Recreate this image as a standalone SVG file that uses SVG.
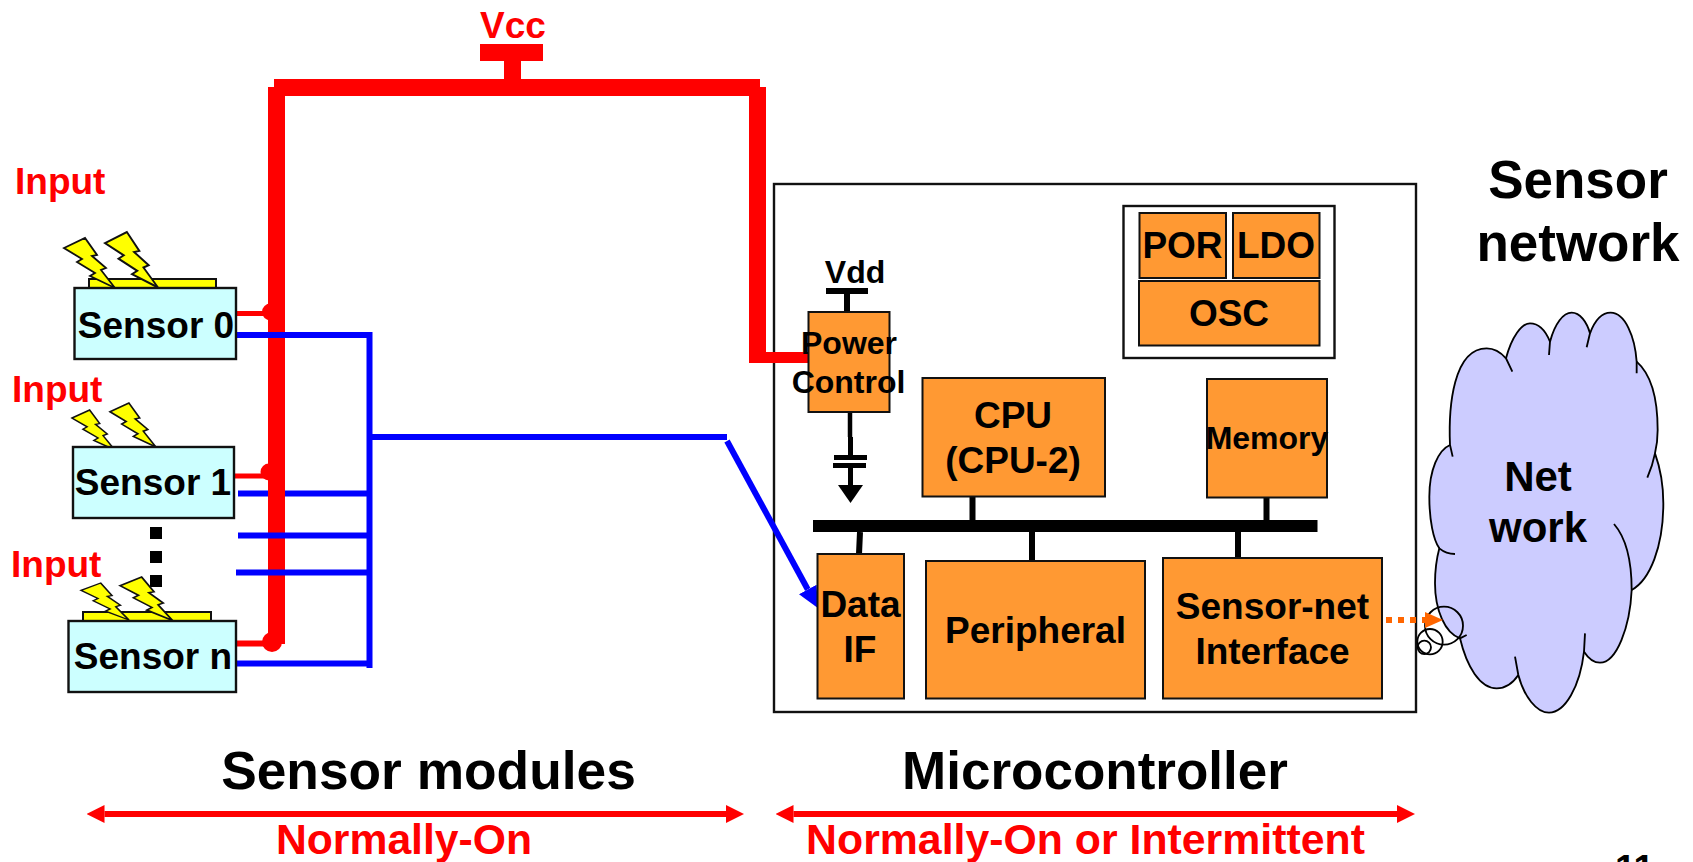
<svg xmlns="http://www.w3.org/2000/svg" width="1693" height="862" viewBox="0 0 1693 862">
<style>
text{font-family:"Liberation Sans",Arial,sans-serif;font-weight:700;fill:#000}
.m{text-anchor:middle}
.r{fill:#f00}
.f36{font-size:37px}
.f31{font-size:32px}
.or{fill:#f93;stroke:#111;stroke-width:2}
.sb{fill:#cff;stroke:#111;stroke-width:2.4}
.yl{fill:#ff0;stroke:#111;stroke-width:2}
.bolt{fill:#ff0;stroke:#111;stroke-width:1.8;stroke-linejoin:miter}
.red{stroke:#f00;fill:none}
.blue{stroke:#00f;fill:none;stroke-width:6}
.blk{stroke:#000;fill:none}
</style>
<defs>
<marker id="ar" markerUnits="userSpaceOnUse" markerWidth="18" markerHeight="18" refX="0" refY="9" orient="auto-start-reverse"><path d="M0,0L18,9L0,18Z" fill="#f00"/></marker>
<marker id="ab" markerUnits="userSpaceOnUse" markerWidth="21" markerHeight="22" refX="0" refY="11" orient="auto"><path d="M0,1L21,11L0,21Z" fill="#00f"/></marker>
<marker id="ao" markerUnits="userSpaceOnUse" markerWidth="18" markerHeight="16" refX="0" refY="8" orient="auto"><path d="M0,0L18,8L0,16Z" fill="#f60"/></marker>
<polygon id="bolt" points="0,10 21,0 33,17 28,18 42,30 37,32 51,50 26,38 31,35 13,24 18,21"/>
</defs>
<rect width="1693" height="862" fill="#fff"/>

<g id="microcontroller-box"><rect x="774" y="184" width="642" height="528" fill="#fff" stroke="#111" stroke-width="2.400"/></g>

<g id="cloud" transform="translate(1380 290) scale(.33333)">
<path fill="#ccf" d="M210,465C205,350 220,175 320,175C345,175 365,190 378,205C395,140 425,100 450,100C478,100 498,125 510,155C525,100 550,68 575,68C600,68 620,95 630,130C645,90 665,68 692,68C735,68 765,140 770,215C810,250 833,320 833,420C833,445 830,470 825,490C843,540 850,590 850,640C850,770 810,870 755,900C750,1010 710,1118 660,1118C640,1118 625,1105 612,1085C600,1190 555,1268 507,1268C470,1268 432,1220 415,1155C395,1185 375,1195 350,1195C300,1195 260,1130 240,1045C195,1030 165,960 165,880C165,840 170,805 178,775C160,750 148,690 148,620C148,540 175,480 210,465Z"/>
<g fill="none" stroke="#000" stroke-width="5.500">
<path d="M218,500L210,465C205,350 220,175 320,175C345,175 365,190 378,205L397,245"/>
<path d="M378,205C395,140 425,100 450,100C478,100 498,125 510,155L507,195"/>
<path d="M510,155C525,100 550,68 575,68C600,68 620,95 630,130L620,172"/>
<path d="M630,130C645,90 665,68 692,68C735,68 765,140 770,215L770,250"/>
<path d="M770,215C810,250 833,320 833,420C833,445 830,470 825,490C820,515 812,540 802,563"/>
<path d="M825,490C843,540 850,590 850,640C850,770 810,870 755,900"/>
<path d="M702,702C735,740 755,810 755,900C750,1010 710,1118 660,1118C640,1118 625,1105 612,1085L615,1030"/>
<path d="M612,1085C600,1190 555,1268 507,1268C470,1268 432,1220 415,1155L405,1100"/>
<path d="M415,1155C395,1185 375,1195 350,1195C300,1195 260,1130 240,1045L260,1035"/>
<path d="M240,1045C195,1030 165,960 165,880C165,840 170,805 178,775C190,785 205,792 225,792"/>
<path d="M178,775C160,750 148,690 148,620C148,540 175,480 210,465"/>
<circle cx="192" cy="1007" r="57"/>
<circle cx="150" cy="1055" r="38"/>
<circle cx="133" cy="1072" r="20"/>
</g>
</g>

<g id="connectors">
<path class="blue" d="M238,493.500H370"/>
<path class="red" stroke-width="17" d="M276.500,644V87"/>
<path class="red" stroke-width="17" d="M274,87.500H760"/>
<path class="red" stroke-width="17" d="M757.500,87V363"/>
<path class="red" stroke-width="11" d="M749,357.500H808"/>
<path class="red" stroke-width="17" d="M512.500,87V52"/>
<path class="red" stroke-width="17" d="M480,52.500H543"/>
<circle cx="270.500" cy="312" r="8.500" fill="#f00"/>
<circle cx="269" cy="472" r="8.500" fill="#f00"/>
<circle cx="272" cy="642" r="10" fill="#f00"/>
<path class="red" stroke-width="5" d="M236,313.500H270M234,476H270"/>
<path class="red" stroke-width="6" d="M236,643.500H270"/>
<path class="blue" d="M236,335H369.500M238,535.500H369.500M236,572.500H369.500M233,663.500H369.500"/>
<path class="blue" stroke-width="7" d="M369.500,332V668"/>
<path class="blue" d="M370,437H727"/>
<path class="blue" stroke-width="5.500" marker-end="url(#ab)" d="M727,441L807.800,589.500"/>
<path stroke="#f60" fill="none" stroke-width="6" stroke-dasharray="6 6" marker-end="url(#ao)" d="M1386,620H1425"/>
<path class="red" stroke-width="6" marker-start="url(#ar)" marker-end="url(#ar)" d="M104.500,814H726"/>
<path class="red" stroke-width="6" marker-start="url(#ar)" marker-end="url(#ar)" d="M793.500,814H1397"/>
<path class="blk" stroke-width="6" d="M847,288V312"/>
<path class="blk" stroke-width="6" d="M826,291H868"/>
<path class="blk" stroke-width="4.500" d="M850,412V437"/>
<path class="blk" stroke-width="5" d="M850.500,437V455M850.500,468V486M834,457.500H867M833,465.500H866"/>
<path d="M838,485H863L850.500,503Z" fill="#000"/>
<path class="blk" stroke-width="12" d="M813,526H1317.500"/>
<path class="blk" stroke-width="6" d="M972.500,497V520M1266.500,498V520M860,532L859,554M1032,532V561M1238,532V558"/>
</g>

<g id="vcc"><text class="r f36 m" x="513" y="38">Vcc</text></g>
<g id="vdd"><text class="m f31" x="855" y="283">Vdd</text></g>

<g id="input-0"><text class="r f36" x="15" y="194">Input</text></g>
<g id="input-1"><text class="r f36" x="12" y="402">Input</text></g>
<g id="input-n"><text class="r f36" x="11" y="577">Input</text></g>

<g id="sensor-0">
<rect class="yl" x="89" y="279" width="127" height="10"/>
<use href="#bolt" class="bolt" transform="translate(64 238)"/>
<use href="#bolt" class="bolt" transform="translate(105 232) scale(1.04 1.110)"/>
<rect class="sb" x="74.500" y="288" width="161.500" height="71"/>
<text class="f36 m" x="156" y="338">Sensor 0</text>
</g>

<g id="sensor-1">
<use href="#bolt" class="bolt" transform="translate(72 410) scale(.84 .8)"/>
<use href="#bolt" class="bolt" transform="translate(110 403) scale(.9 .88)"/>
<rect class="sb" x="73" y="447" width="161" height="71"/>
<text class="f36 m" x="153" y="495">Sensor 1</text>
</g>

<g id="ellipsis">
<rect x="150" y="527" width="12" height="12"/>
<rect x="150" y="551" width="12" height="12"/>
<rect x="150" y="575" width="12" height="12"/>
</g>

<g id="sensor-n">
<rect class="yl" x="83" y="612" width="128" height="10"/>
<use href="#bolt" class="bolt" transform="translate(81 583) scale(.94 .74)"/>
<use href="#bolt" class="bolt" transform="translate(120 577) scale(1.03 .87)"/>
<rect class="sb" x="68.500" y="621" width="167.500" height="71"/>
<text class="f36 m" x="153" y="669">Sensor n</text>
</g>

<g id="power-control">
<rect class="or" x="808.500" y="312" width="81" height="100"/>
<text class="f31 m" x="849" y="354">Power</text>
<text class="f31 m" x="848.500" y="393">Control</text>
</g>

<g id="support-block">
<rect x="1123.500" y="206" width="211" height="152" fill="#fff" stroke="#111" stroke-width="2.400"/>
</g>
<g id="por"><rect class="or" x="1139.500" y="213" width="86.500" height="65"/><text class="f36 m" x="1182.500" y="258">POR</text></g>
<g id="ldo"><rect class="or" x="1233" y="213" width="86.500" height="65"/><text class="f36 m" x="1276" y="258">LDO</text></g>
<g id="osc"><rect class="or" x="1139" y="281" width="180.500" height="64.500"/><text class="f36 m" x="1229" y="326">OSC</text></g>

<g id="cpu"><rect class="or" x="922.500" y="378" width="182.500" height="118.500"/>
<text class="f36 m" x="1013" y="428">CPU</text>
<text class="f36 m" x="1013" y="473">(CPU-2)</text></g>
<g id="memory"><rect class="or" x="1207" y="379" width="120" height="118.500"/>
<text class="f31 m" x="1267" y="449">Memory</text></g>

<g id="data-if"><rect class="or" x="817.500" y="554" width="86.500" height="144.500"/>
<text class="f36 m" x="860.500" y="617">Data</text>
<text class="f36 m" x="860" y="662">IF</text></g>
<g id="peripheral"><rect class="or" x="926" y="561" width="219" height="137.500"/>
<text class="f36 m" x="1035.500" y="643">Peripheral</text></g>
<g id="sensor-net-interface"><rect class="or" x="1163" y="558" width="219" height="140.500"/>
<text class="f36 m" x="1272.500" y="619">Sensor-net</text>
<text class="f36 m" x="1272.500" y="664">Interface</text></g>

<g id="network-label">
<text class="m" font-size="42" x="1538" y="491">Net</text>
<text class="m" font-size="42" x="1538" y="542">work</text>
</g>
<g id="sensor-network-label">
<text class="m" font-size="53" x="1578" y="198">Sensor</text>
<text class="m" font-size="53" x="1578" y="261">network</text>
</g>
<g id="sensor-modules-label">
<text class="m" font-size="53.300" x="428.500" y="789">Sensor modules</text>
<text class="r m" font-size="42.700" x="404" y="854">Normally-On</text>
</g>
<g id="microcontroller-label">
<text class="m" font-size="53" x="1095" y="789">Microcontroller</text>
<text class="r m" font-size="42.800" x="1085.500" y="854">Normally-On or Intermittent</text>
</g>
<g id="page-number"><text class="f36" x="1615" y="881">11</text></g>
</svg>
